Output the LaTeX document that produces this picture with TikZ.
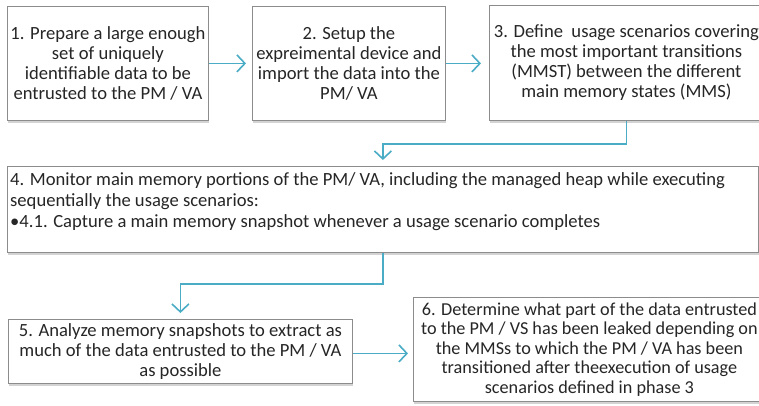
\documentclass[tikz,border=0pt]{standalone}
\usepackage{fontspec}
\setmainfont{Carlito}
\usetikzlibrary{arrows.meta,shadows,positioning}
\definecolor{flowblue}{HTML}{4BACC6}
\definecolor{boxgray}{HTML}{8C8C8C}
\definecolor{inkgray}{HTML}{262626}

\begin{document}
\begin{tikzpicture}[x=1pt,y=-1pt,
  stepbox/.style={draw=boxgray, line width=0.8pt, fill=white, inner sep=1pt,
    align=center, text=inkgray, font=\fontsize{18.6}{20}\selectfont,
    drop shadow={shadow xshift=1pt, shadow yshift=-2.5pt, opacity=0.35}},
  steptext/.style={inner sep=0pt, align=left, text=inkgray,
    font=\fontsize{18.6}{21.5}\selectfont},
  flow/.style={draw=flowblue, line width=1.6pt,
    -{Straight Barb[length=8pt,width=17pt,line width=1.6pt]}}]

\useasboundingbox (0,0) rectangle (759,405);

% top row
\node[stepbox, anchor=north west, minimum width=201pt, minimum height=114pt] (prepare) at (7,6)
  {1. Prepare a large enough\\ set of uniquely\\ identifiable data to be\\ entrusted to the PM / VA};
\node[stepbox, anchor=north west, minimum width=193pt, minimum height=114pt] (setup) at (252,6)
  {2. Setup the\\ expreimental device and\\ import the data into the\\ PM/ VA};
\node[stepbox, anchor=north west, minimum width=274pt, minimum height=115pt] (define) at (489,5)
  {3. Define\ \ usage scenarios covering\\ the most important transitions\\ (MMST) between the different\\ main memory states (MMS)};

% monitoring box
\node[stepbox, anchor=north west, minimum width=751pt, minimum height=86pt] (monitor) at (7,166) {};
\node[steptext, anchor=north west] (monitortext) at (10,172)
  {4. Monitor main memory portions of the PM/ VA, including the managed heap while executing\\
   sequentially the usage scenarios:\\[-1pt]
   \textbullet 4.1. Capture a main memory snapshot whenever a usage scenario completes};

% bottom row
\node[stepbox, anchor=north west, minimum width=344pt, minimum height=64pt] (analyze) at (8,319)
  {5. Analyze memory snapshots to extract as\\ much of the data entrusted to the PM / VA\\ as possible};
\node[stepbox, anchor=north west, minimum width=352pt, minimum height=104pt,
      font=\fontsize{18.2}{19.5}\selectfont] (determine) at (413,297)
  {6. Determine what part of the data entrusted\\ to the PM / VS has been leaked depending on\\
   the MMSs to which the PM / VA has been\\ transitioned after theexecution of usage\\ scenarios defined in phase 3};

\draw[flow, shorten >=6pt] (prepare) -- (setup);
\draw[flow, shorten >=8pt] (setup) -- (define.west |- setup);
\draw[flow, shorten >=6pt] (define.south) -- ++(0,23) -| (monitor.north);
\draw[flow, shorten >=6pt] (monitor.south) -- ++(0,31) -| (analyze.north);
\draw[flow, shorten >=5pt] ([yshift=-2pt]analyze.east) -- ([yshift=-2pt]analyze.east -| determine.west);

\end{tikzpicture}
\end{document}
